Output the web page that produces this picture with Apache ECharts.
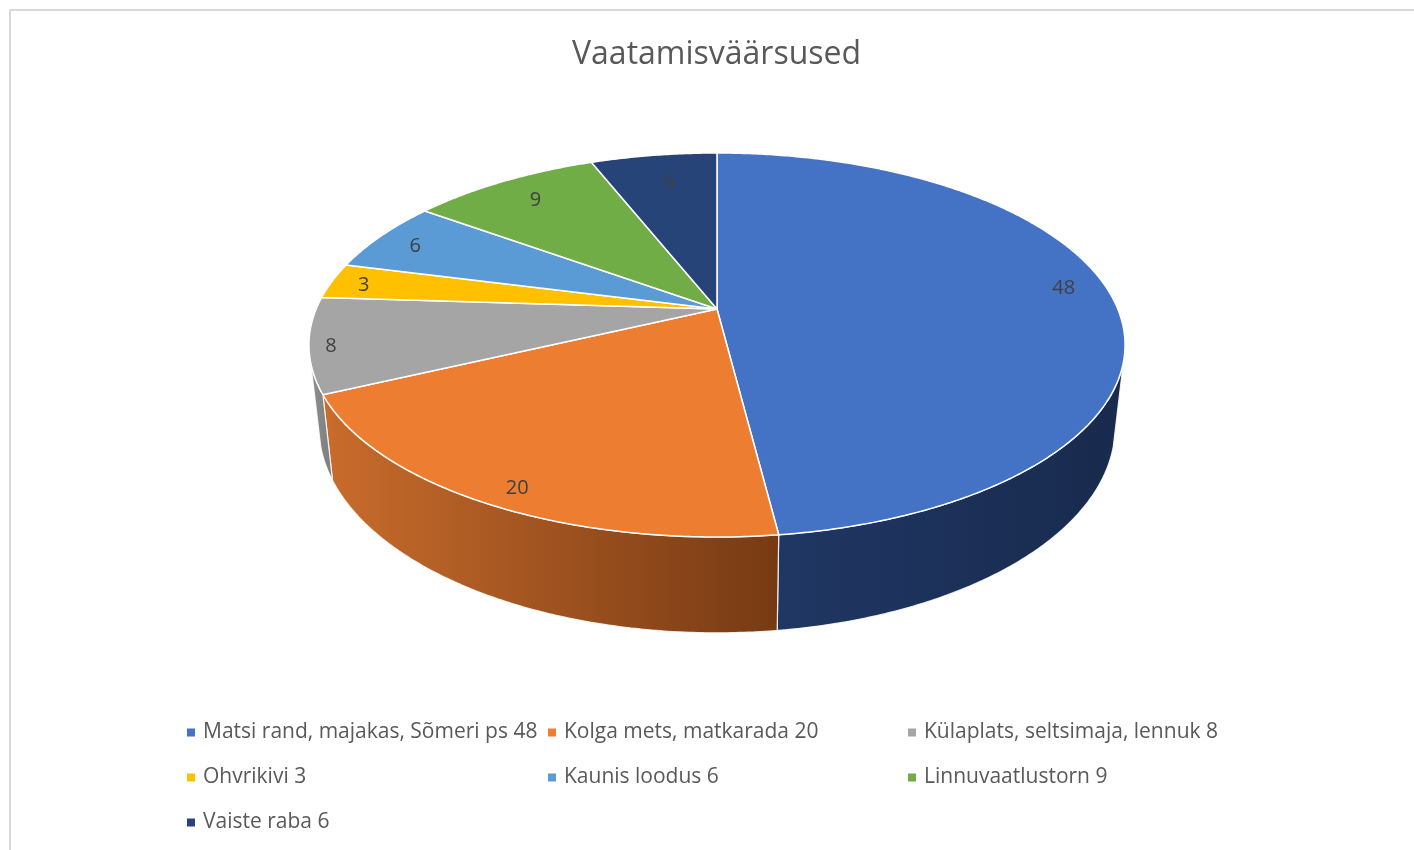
<!DOCTYPE html>
<html><head><meta charset="utf-8">
<style>html,body{margin:0;padding:0;background:#fff}#c{width:1414px;height:850px}</style>
<script src="https://cdn.jsdelivr.net/npm/echarts@6/dist/echarts.min.js"></script>
</head><body><div id="c"></div>
<script>
const categories = ['Matsi rand, majakas, Sõmeri ps', 'Kolga mets, matkarada', 'Külaplats, seltsimaja, lennuk', 'Ohvrikivi', 'Kaunis loodus', 'Linnuvaatlustorn', 'Vaiste raba'];
const visits = [48, 20, 8, 3, 6, 9, 6];
const topColors = ['#4472c4', '#ed7d31', '#a5a5a5', '#ffc000', '#5b9bd5', '#70ad47', '#264478'];
const sideStops = [['#203764', '#182a4d'], ['#c96c2c', '#763a13'], ['#8f8f8f', '#7c7c7c'], ['#a88000', '#a88000'], ['#3d6f9f', '#3d6f9f'], ['#4f7a32', '#4f7a32'], ['#1a2f54', '#1a2f54']];

// Layout of the tilted disc (perspective projection of a circle)
const CX = 717, TOP = {cy: 309, a: 400.8, b: 185.25}, BOTTOM = {cy: 388.5, a: 391, b: 198.5}, K = 0.1875;
const SIDE_FROM = 106, SIDE_TO = 254;
const labelOffsets = [[10, -11], [-9, 19], [-41, 7], [-25, 0], [-13, 0], [4, 2], [8, 7]];
const legendCells = [[187, 722], [548, 722], [908, 722], [187, 767], [548, 767], [908, 767], [187, 812]];

const total = visits.reduce((s, v) => s + v, 0);
const starts = visits.map((_, i) => visits.slice(0, i).reduce((s, v) => s + v, 0) / total * 360);

function project(d, deg, r) {
  const t = deg * Math.PI / 180, X = r * Math.sin(t), Y = -r * Math.cos(t), w = 1 - K * Y;
  return [CX + d.a * X / w, d.cy + d.b * Y / w];
}
function arc(d, from, to) {
  const pts = [], n = Math.max(2, Math.ceil(Math.abs(to - from) * 2));
  for (let i = 0; i <= n; i++) pts.push(project(d, from + (to - from) * i / n, 1));
  return pts;
}
const seriesNames = categories.map((c, i) => c + ' ' + visits[i]);

const series = visits.map((v, i) => ({
  type: 'custom', name: seriesNames[i], coordinateSystem: 'none', silent: true,
  itemStyle: {color: topColors[i]},
  data: [[v]],
  renderItem: function (params, api) {
    const a0 = starts[i], a1 = a0 + api.value(0) / total * 360, children = [];
    const s0 = Math.max(a0, SIDE_FROM), s1 = Math.min(a1, SIDE_TO);
    if (s1 > s0) {
      children.push({type: 'polygon', shape: {points: arc(TOP, s0, s1).concat(arc(BOTTOM, s1, s0))},
        style: {fill: {type: 'linear', x: 0, y: 0, x2: 1, y2: 0, colorStops: [{offset: 0, color: sideStops[i][0]}, {offset: 1, color: sideStops[i][1]}]},
          stroke: 'rgba(255,255,255,0.85)', lineWidth: 1.2, lineJoin: 'round'}});
    }
    children.push({type: 'polygon', shape: {points: [project(TOP, 0, 0)].concat(arc(TOP, a0, a1))},
      style: {fill: topColors[i], stroke: '#ffffff', lineWidth: 1.5, lineJoin: 'round'}});
    const lp = project(TOP, (a0 + a1) / 2, 0.85);
    children.push({type: 'text', z2: 10, style: {text: String(api.value(0)), x: lp[0] + labelOffsets[i][0], y: lp[1] + labelOffsets[i][1],
      align: 'center', verticalAlign: 'middle', fill: '#404040', font: '20px "Open Sans"'}});
    return {type: 'group', children};
  }
}));

const chart = echarts.init(document.getElementById('c'), null, {renderer: 'canvas'});
chart.setOption({
  animation: false, backgroundColor: '#ffffff',
  title: {text: 'Vaatamisväärsused', left: 572, top: 39, padding: 0, textStyle: {color: '#595959', fontFamily: 'Open Sans', fontSize: 32, fontWeight: 'normal'}},
  legend: seriesNames.map((n, i) => ({data: [n], left: legendCells[i][0], top: legendCells[i][1], padding: 0, icon: 'rect', itemWidth: 8, itemHeight: 8, itemGap: 0,
    selectedMode: false, textStyle: {color: '#595959', fontFamily: 'Open Sans', fontSize: 21, padding: [0, 0, 0, 3]}})),
  graphic: [
    {type: 'line', silent: true, shape: {x1: 10, y1: 10, x2: 1414, y2: 10}, style: {stroke: '#d9d9d9', lineWidth: 2}},
    {type: 'line', silent: true, shape: {x1: 10, y1: 10, x2: 10, y2: 850}, style: {stroke: '#d9d9d9', lineWidth: 2}}
  ],
  series
});
</script></body></html>
